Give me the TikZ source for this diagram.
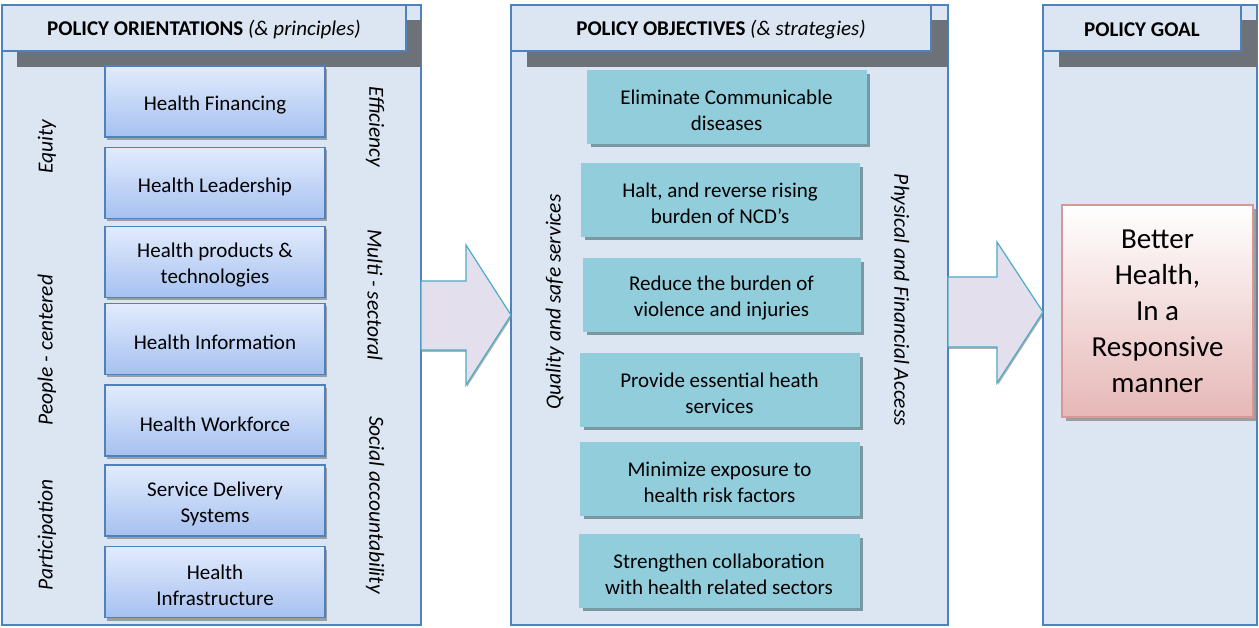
\documentclass[tikz,border=0pt]{standalone}
\usepackage{fontspec}
\setmainfont{Carlito}
\usetikzlibrary{shadows}
\definecolor{panelbg}{HTML}{DCE6F2}
\definecolor{panelbd}{HTML}{4F81BD}
\definecolor{hdrshadow}{HTML}{6D7178}
\definecolor{ltop}{HTML}{E2EBFD}
\definecolor{lbot}{HTML}{A6C1F0}
\definecolor{teal}{HTML}{92CDDC}
\definecolor{tealsh}{HTML}{7A98A2}
\definecolor{arrowfill}{HTML}{E4DFEC}
\definecolor{arrowbd}{HTML}{4BACC6}
\definecolor{goalbot}{HTML}{E6B8B7}
\definecolor{goalbd}{HTML}{D99694}
\newcommand\dnstrut{\rule{0pt}{21.5pt}}
\tikzset{
  panel/.style={fill=panelbg, draw=panelbd, line width=1.2pt},
  header/.style={fill=panelbg, draw=panelbd, line width=1.5pt},
  hdrtext/.style={font=\fontsize{21}{24}\selectfont},
  lbox/.style={draw=panelbd, line width=1.5pt, top color=ltop, bottom color=lbot,
    minimum width=220pt, minimum height=71pt, align=center, inner sep=0pt,
    font=\fontsize{21}{26}\selectfont,
    drop shadow={shadow xshift=2pt, shadow yshift=-3pt, fill=gray, opacity=0.7}},
  mbox/.style={fill=teal, draw=teal, minimum height=73pt, align=center, inner sep=0pt,
    font=\fontsize{21}{26}\selectfont,
    drop shadow={shadow xshift=4pt, shadow yshift=-4pt, fill=tealsh, opacity=1}},
  vlab/.style={font=\fontsize{21.5}{24}\selectfont\itshape},
  bigarrow/.style={fill=arrowfill, draw=arrowbd, line width=1.2pt,
    drop shadow={shadow xshift=1pt, shadow yshift=-2pt, fill=gray, opacity=0.6}},
  goal/.style={draw=goalbd, line width=1.5pt, top color=white, bottom color=goalbot,
    minimum width=191pt, minimum height=212pt, align=center, inner sep=0pt,
    font=\fontsize{29}{36}\selectfont,
    drop shadow={shadow xshift=4pt, shadow yshift=-4pt, fill=gray, opacity=0.7}}
}
\begin{document}
\begin{tikzpicture}[x=1pt,y=-1pt]
\useasboundingbox[fill=white] (0,0) rectangle (1259,628);
% panel 1
\draw[panel] (2,5) rectangle (421,625);
\fill[hdrshadow] (17,20) rectangle (421,67);
\draw[header] (2,5) rectangle (406,51);
\node[hdrtext] (h1) at (204,30) {\textbf{POLICY ORIENTATIONS} \textit{(\& principles)}};
% panel 2
\draw[panel] (511,5) rectangle (948,625);
\fill[hdrshadow] (527,20) rectangle (948,67);
\draw[header] (511,5) rectangle (931,51);
\node[hdrtext] (h2) at (721,30) {\textbf{POLICY OBJECTIVES} \textit{(\& strategies)}};
% panel 3
\draw[panel] (1043,5) rectangle (1257,625);
\fill[hdrshadow] (1059,20) rectangle (1257,67);
\draw[header] (1043,5) rectangle (1241,51);
\node[hdrtext] (h3) at (1142,30) {\textbf{POLICY GOAL}};
% left boxes
\node[lbox] (l1) at (215,101.5) {\dnstrut Health Financing};
\node[lbox] (l2) at (215,183) {\dnstrut Health Leadership};
\node[lbox] (l3) at (215,262) {\dnstrut Health products \&\\technologies};
\node[lbox] (l4) at (215,339) {\dnstrut Health Information};
\node[lbox] (l5) at (215,420.5) {\dnstrut Health Workforce};
\node[lbox] (l6) at (215,500.5) {\dnstrut Service Delivery\\Systems};
\node[lbox] (l7) at (215,582) {\dnstrut Health\\Infrastructure};
% left labels
\node[vlab, rotate=90] (e1) at (47,147) {Equity};
\node[vlab, rotate=90] (e2) at (47,350) {People - centered};
\node[vlab, rotate=90] (e3) at (47,535) {Participation};
\node[vlab, rotate=-90] (r1) at (375,127) {Efficiency};
\node[vlab, rotate=-90] (r2) at (375,295) {Multi - sectoral};
\node[vlab, rotate=-90] (r3) at (375,505) {Social accountability};
% middle boxes
\node[mbox, minimum width=279pt] (m1) at (726.5,106.5) {\dnstrut Eliminate Communicable\\diseases};
\node[mbox, minimum width=278pt] (m2) at (720,199.5) {\dnstrut Halt, and reverse rising\\burden of NCD’s};
\node[mbox, minimum width=277pt] (m3) at (721.5,294.5) {\dnstrut Reduce the burden of\\violence and injuries};
\node[mbox, minimum width=279pt] (m4) at (719.5,389.5) {\dnstrut Provide essential heath\\services};
\node[mbox, minimum width=279pt] (m5) at (719.5,478.5) {\dnstrut Minimize exposure to\\health risk factors};
\node[mbox, minimum width=280pt] (m6) at (719,570.5) {\dnstrut Strengthen collaboration\\with health related sectors};
\node[vlab, rotate=90] (q1) at (555,302) {Quality and safe services};
\node[vlab, rotate=-90] (q2) at (900,300) {Physical and Financial Access};
% arrows
\draw[bigarrow] (421,281) -- (466,281) -- (466,245) -- (511,315) -- (466,385) -- (466,350) -- (421,350) -- cycle;
\draw[bigarrow] (948,277) -- (997,277) -- (997,242) -- (1043,312) -- (997,383) -- (997,347) -- (948,347) -- cycle;
% goal
\node[goal] (g) at (1157.5,311) {Better\\Health,\\In a\\Responsive\\manner};
\end{tikzpicture}
\end{document}
